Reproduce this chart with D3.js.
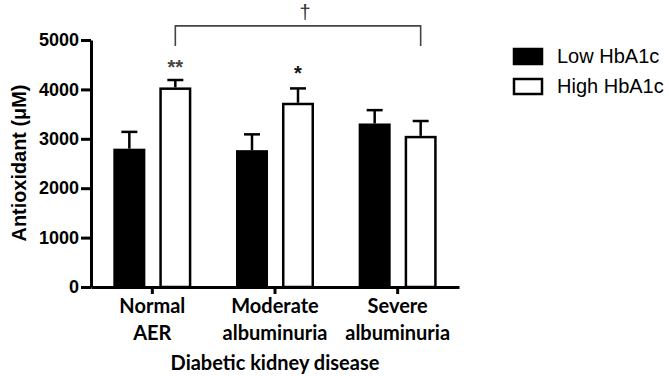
<!DOCTYPE html>
<html>
<head>
<meta charset="utf-8">
<script src="https://cdn.jsdelivr.net/npm/d3@7"></script>
<style>
  html, body { margin: 0; padding: 0; background: #fff; }
  svg { display: block; }
</style>
</head>
<body>
<div id="chart"></div>
<script>
// DATA
const categories = [['Normal', 'AER'], ['Moderate', 'albuminuria'], ['Severe', 'albuminuria']];
const seriesNames = ['Low HbA1c', 'High HbA1c'];
const lowMeans = [2800, 2770, 3310];
const lowErrors = [340, 320, 270];
const highMeans = [4040, 3730, 3060];
const highErrors = [150, 290, 300];
const marks = ['**', '*', ''];
const yTicks = [0, 1000, 2000, 3000, 4000, 5000];

const width = 669, height = 376;
const margin = { top: 40, right: 210, bottom: 89, left: 91 };

const svg = d3.select('#chart').append('svg')
    .attr('width', width)
    .attr('height', height);

// SCALES
const x0 = d3.scaleBand()
    .domain(d3.range(categories.length))
    .range([margin.left, width - margin.right])
    .padding(0);

const bw = x0.bandwidth();
const x1 = d3.scaleBand()
    .domain([0, 1])
    .range([bw / 2 - 39, bw / 2 + 39])
    .paddingInner(0.304);

const y = d3.scaleLinear()
    .domain([0, 5000])
    .range([height - margin.bottom, margin.top]);

const rows = categories.map((c, i) => [
    { s: 0, i, v: lowMeans[i], e: lowErrors[i] },
    { s: 1, i, v: highMeans[i], e: highErrors[i] }
]).flat();

const cx = d => x0(d.i) + x1(d.s) + x1.bandwidth() / 2;

// ERROR BARS (drawn first so bars sit on top)
const eb = svg.append('g').attr('stroke', '#000').attr('stroke-width', 2.5);
eb.selectAll('line.stem')
    .data(rows)
    .join('line')
    .attr('class', 'stem')
    .attr('x1', cx)
    .attr('x2', cx)
    .attr('y1', d => y(d.v))
    .attr('y2', d => y(d.v + d.e));
eb.selectAll('line.cap')
    .data(rows)
    .join('line')
    .attr('class', 'cap')
    .attr('x1', d => cx(d) - 8)
    .attr('x2', d => cx(d) + 8)
    .attr('y1', d => y(d.v + d.e))
    .attr('y2', d => y(d.v + d.e));

// BARS
svg.append('g')
    .selectAll('rect')
    .data(rows)
    .join('rect')
    .attr('x', d => x0(d.i) + x1(d.s) + 1.25)
    .attr('y', d => y(d.v) + 1.25)
    .attr('width', x1.bandwidth() - 2.5)
    .attr('height', d => y(0) - y(d.v) - 1.25)
    .attr('fill', d => d.s === 0 ? '#000' : '#fff')
    .attr('stroke', '#000')
    .attr('stroke-width', 2.5);

// Y AXIS
const yAxis = svg.append('g')
    .attr('transform', `translate(${margin.left},0)`)
    .call(d3.axisLeft(y).tickValues(yTicks).tickFormat(d3.format('d'))
        .tickSize(10).tickPadding(2).tickSizeOuter(0));
yAxis.select('.domain').attr('stroke-width', 3);
yAxis.selectAll('.tick line').attr('stroke-width', 3);
yAxis.selectAll('.tick text')
    .attr('fill', '#000')
    .style('font', 'bold 18px "Liberation Sans", Arial, sans-serif');

// X AXIS
const xAxis = svg.append('g')
    .attr('transform', `translate(0,${y(0)})`)
    .call(d3.axisBottom(x0).tickSize(7).tickSizeOuter(0).tickFormat(''));
xAxis.select('.domain').attr('stroke-width', 3);
xAxis.selectAll('.tick line').attr('stroke-width', 3);

const labelFont = 'bold 20px Lato, "Open Sans", sans-serif';
const catLabels = svg.append('g');
categories.forEach((c, i) => {
    catLabels.append('text')
        .attr('x', x0(i) + bw / 2)
        .attr('y', 313)
        .attr('text-anchor', 'middle')
        .style('font', labelFont)
        .text(c[0]);
    catLabels.append('text')
        .attr('x', x0(i) + bw / 2)
        .attr('y', 340)
        .attr('text-anchor', 'middle')
        .style('font', labelFont)
        .text(c[1]);
});

svg.append('text')
    .attr('x', (margin.left + width - margin.right) / 2)
    .attr('y', 370)
    .attr('text-anchor', 'middle')
    .style('font', labelFont)
    .text('Diabetic kidney disease');

// Y TITLE: spans roughly y 85..240 in the reference
const yTitle = svg.append('text')
    .attr('transform', 'translate(26,163) rotate(-90)')
    .attr('text-anchor', 'middle')
    .style('font', 'bold 20px "Liberation Sans", Arial, sans-serif')
    .text('Antioxidant (\u03bcM)');
const titleLen = yTitle.node().getComputedTextLength();
if (titleLen > 0) yTitle.style('font-size', (20 * 157 / titleLen).toFixed(2) + 'px');

// SIGNIFICANCE MARKS
svg.append('g')
    .selectAll('text')
    .data(rows.filter(d => d.s === 1))
    .join('text')
    .attr('x', cx)
    .attr('y', d => y(d.v + d.e) - (d.i === 0 ? 6 : 8))
    .attr('text-anchor', 'middle')
    .attr('fill', (d, k) => k === 0 ? '#444' : '#111')
    .style('font', 'bold 20px "Liberation Sans", Arial, sans-serif')
    .text(d => marks[d.i]);

// BRACKET
const bx1 = cx(rows[1]);
const bx2 = cx(rows[5]);
svg.append('path')
    .attr('d', `M${bx1},${y(4880)}V${y(5285)}H${bx2}V${y(4880)}`)
    .attr('fill', 'none')
    .attr('stroke', '#444')
    .attr('stroke-width', 1.6);
svg.append('text')
    .attr('x', (bx1 + bx2) / 2 + 7)
    .attr('y', 19)
    .attr('text-anchor', 'middle')
    .attr('fill', '#333')
    .style('font', '20px "Liberation Sans", Arial, sans-serif')
    .text('\u2020');

// LEGEND
const legend = svg.append('g').attr('transform', 'translate(513,48)');
seriesNames.forEach((name, k) => {
    const g = legend.append('g').attr('transform', `translate(0,${k * 30})`);
    g.append('rect')
        .attr('x', 1).attr('y', 1)
        .attr('width', 28).attr('height', 15)
        .attr('fill', k === 0 ? '#000' : '#fff')
        .attr('stroke', '#000')
        .attr('stroke-width', 2.5);
    g.append('text')
        .attr('x', 44)
        .attr('y', 15)
        .style('font', '20px "Liberation Sans", Arial, sans-serif')
        .text(name);
});
</script>
</body>
</html>
